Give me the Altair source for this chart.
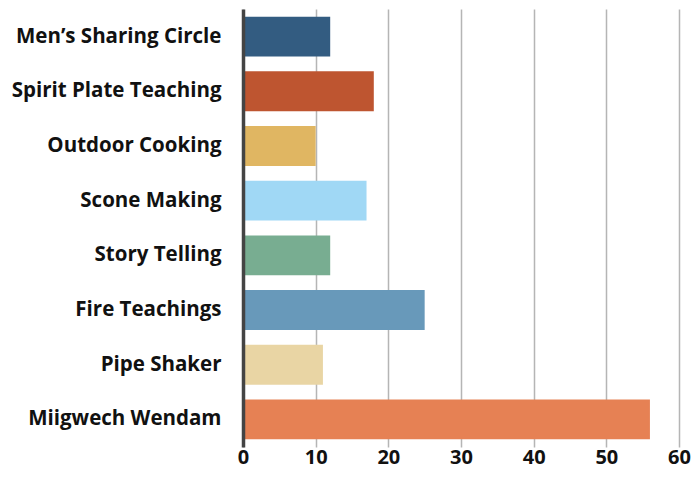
import altair as alt
import pandas as pd

categories = ["Men’s Sharing Circle", "Spirit Plate Teaching", "Outdoor Cooking", "Scone Making",
              "Story Telling", "Fire Teachings", "Pipe Shaker", "Miigwech Wendam"]
values = [12, 18, 10, 17, 12, 25, 11, 56]
colors = ["#335C81", "#BE5530", "#E0B662", "#A0D8F5", "#78AD91", "#6899BA", "#E9D5A4", "#E68154"]

df = pd.DataFrame({"activity": categories, "count": values})

chart = alt.Chart(df).mark_bar().encode(
    y=alt.Y("activity:N", sort=categories,
            scale=alt.Scale(paddingInner=0.27, paddingOuter=0.14),
            axis=alt.Axis(title=None, ticks=False, domain=True, domainColor="#444444",
                          domainWidth=3.5, labelFont="Open Sans", labelFontWeight="bold",
                          labelFontSize=20.5, labelColor="#111111", labelPadding=22,
                          labelLimit=400, grid=False, zindex=1)),
    x=alt.X("count:Q", scale=alt.Scale(domain=[0, 60]),
            axis=alt.Axis(title=None, values=[0, 10, 20, 30, 40, 50, 60], ticks=False, domain=False,
                          grid=True, gridColor="#b5b5b5", gridWidth=1.5,
                          labelFont="Open Sans", labelFontWeight="bold", labelFontSize=20,
                          labelColor="#111111", labelPadding=16, labelBaseline="alphabetic",
                          labelFlush=False)),
    color=alt.Color("activity:N", sort=categories,
                    scale=alt.Scale(domain=categories, range=colors), legend=None),
).properties(
    width=436, height=438,
    autosize=alt.AutoSizeParams(type="none"),
    padding={"left": 235, "top": 1, "right": 12, "bottom": 23},
).configure_view(stroke=None)

chart.save("out.html", embed_options={"renderer": "svg", "actions": False})
